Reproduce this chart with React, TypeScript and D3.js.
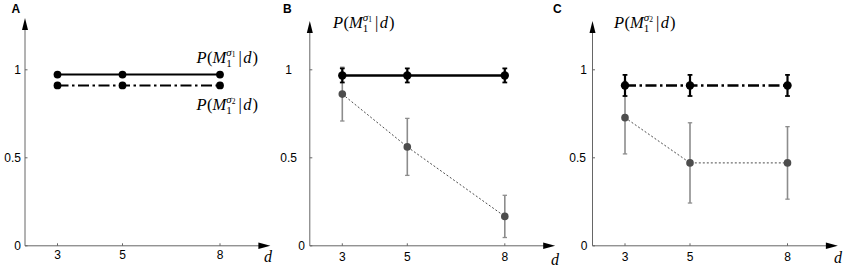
import React from "react";
import * as d3 from "d3";

// ---- data ----
const dValues = [3, 5, 8];
const dTickLabels = ["3", "5", "8"];
const yTicks = [0, 0.5, 1];
const yTickLabels = ["0", "0.5", "1"];

const aSigma1 = [0.973, 0.973, 0.973];
const aSigma2 = [0.911, 0.911, 0.911];

const bModel = [0.968, 0.968, 0.968];
const bModelErr = [0.04, 0.04, 0.04];
const bEmp = [0.862, 0.562, 0.167];
const bEmpErr = [0.153, 0.162, 0.12];

const cModel = [0.911, 0.911, 0.911];
const cModelErr = [0.06, 0.06, 0.06];
const cEmp = [0.728, 0.471, 0.471];
const cEmpErr = [0.206, 0.228, 0.206];

const panelLetters = ["A", "B", "C"];

// ---- layout ----
const W = 843;
const H = 267;
const panelOrigins = [25, 309.8, 592.5];
const axisTop = [18, 21, 21];
const yBottom = 245.8;
const yOne = 69.8;
const SERIF = "'Liberation Serif', 'DejaVu Serif', serif";
const SANS = "'Liberation Sans', Arial, Helvetica, sans-serif";

function MathLabel({ x, y, sup }: { x: number; y: number; sup: string }) {
  return (
    <text x={x} y={y} fontFamily={SERIF} fontSize={16.5} fill="#000">
      <tspan fontStyle="italic">P</tspan>
      <tspan dx={0.5}>(</tspan>
      <tspan fontStyle="italic">M</tspan>
      <tspan fontSize={11} dy={3.5}>1</tspan>
      <tspan fontSize={11} fontStyle="italic" dx={-5.5} dy={-11}>σ</tspan>
      <tspan fontSize={7.5} dy={1.5}>{sup}</tspan>
      <tspan dx={3} dy={6}>|</tspan>
      <tspan dx={1.5} fontStyle="italic">d</tspan>
      <tspan dx={1}>)</tspan>
    </text>
  );
}

function Axes({ i, yLabelRight }: { i: number; yLabelRight: number[] }) {
  const ox = panelOrigins[i];
  const x = d3.scaleLinear().domain([2, 9.55]).range([ox, ox + 7.55 * 32.5]);
  const y = d3.scaleLinear().domain([0, 1]).range([yBottom, yOne]);
  const xEnd = x(9.55);
  const top = axisTop[i];
  const axisColor = "#666";
  return (
    <g>
      <line x1={ox} x2={xEnd - 10} y1={yBottom} y2={yBottom} stroke={axisColor} strokeWidth={1} />
      <line x1={ox} x2={ox} y1={yBottom} y2={top + 10} stroke={axisColor} strokeWidth={1} />
      <path d={`M${xEnd},${yBottom} L${xEnd - 12},${yBottom - 3.2} L${xEnd - 12},${yBottom + 3.2} Z`} fill="#000" />
      <path d={`M${ox},${top} L${ox - 3},${top + 12} L${ox + 3},${top + 12} Z`} fill="#000" />
      {dValues.map((d, k) => (
        <g key={k}>
          <line x1={x(d)} x2={x(d)} y1={yBottom} y2={yBottom - 2.5} stroke={axisColor} />
          <text x={x(d)} y={i === 0 ? 259 : 260.5} textAnchor="middle" fontFamily={SANS} fontSize={12} fill="#000">
            {dTickLabels[k]}
          </text>
        </g>
      ))}
      {yTicks.map((t, k) => (
        <g key={k}>
          <line x1={ox} x2={ox + 2.5} y1={y(t)} y2={y(t)} stroke={axisColor} />
          <text x={yLabelRight[k]} y={y(t) + 4.3} textAnchor="end" fontFamily={SANS} fontSize={12} fill="#000">
            {yTickLabels[k]}
          </text>
        </g>
      ))}
    </g>
  );
}

function ErrorSeries({ i, vals, errs, color, barColor, lineDash, lineWidth, r, barWidth, capW }:
  { i: number; vals: number[]; errs: number[]; color: string; barColor: string; lineDash: string; lineWidth: number; r: number; barWidth: number; capW: number }) {
  const ox = panelOrigins[i];
  const x = d3.scaleLinear().domain([2, 9.55]).range([ox, ox + 7.55 * 32.5]);
  const y = d3.scaleLinear().domain([0, 1]).range([yBottom, yOne]);
  const line = d3.line<number>().x((_, k) => x(dValues[k])).y((v) => y(v));
  return (
    <g>
      {vals.map((v, k) => (
        <g key={"e" + k}>
          <line x1={x(dValues[k])} x2={x(dValues[k])} y1={y(v + errs[k])} y2={y(v - errs[k])} stroke={barColor} strokeWidth={barWidth} />
          <line x1={x(dValues[k]) - capW} x2={x(dValues[k]) + capW} y1={y(v + errs[k])} y2={y(v + errs[k])} stroke={barColor} strokeWidth={barWidth * 0.8} />
          <line x1={x(dValues[k]) - capW} x2={x(dValues[k]) + capW} y1={y(v - errs[k])} y2={y(v - errs[k])} stroke={barColor} strokeWidth={barWidth * 0.8} />
        </g>
      ))}
      <path d={line(vals) || ""} fill="none" stroke={color} strokeWidth={lineWidth} strokeDasharray={lineDash} />
      {vals.map((v, k) => (
        <circle key={"c" + k} cx={x(dValues[k])} cy={y(v)} r={r} fill={color} />
      ))}
    </g>
  );
}

function PlainSeries({ i, vals, dash }: { i: number; vals: number[]; dash: string }) {
  const ox = panelOrigins[i];
  const x = d3.scaleLinear().domain([2, 9.55]).range([ox, ox + 7.55 * 32.5]);
  const y = d3.scaleLinear().domain([0, 1]).range([yBottom, yOne]);
  const line = d3.line<number>().x((_, k) => x(dValues[k])).y((v) => y(v));
  return (
    <g>
      <path d={line(vals) || ""} fill="none" stroke="#000" strokeWidth={2} strokeDasharray={dash} />
      {vals.map((v, k) => (
        <circle key={k} cx={x(dValues[k])} cy={y(v)} r={3.9} fill="#000" />
      ))}
    </g>
  );
}

export default function App() {
  const dash = "11,3.5,2.5,3.5";
  return (
    <svg width={W} height={H} style={{ position: "absolute", left: 0, top: 0, background: "#fff" }}>
      <rect width={W} height={H} fill="#fff" />
      {/* panel letters */}
      <text x={11.5} y={13} fontFamily={SANS} fontWeight="bold" fontSize={12}>{panelLetters[0]}</text>
      <text x={283} y={13} fontFamily={SANS} fontWeight="bold" fontSize={12}>{panelLetters[1]}</text>
      <text x={553} y={13} fontFamily={SANS} fontWeight="bold" fontSize={12}>{panelLetters[2]}</text>

      {/* Panel A */}
      <Axes i={0} yLabelRight={[21, 21, 21]} />
      <PlainSeries i={0} vals={aSigma1} dash="" />
      <PlainSeries i={0} vals={aSigma2} dash={dash} />
      <MathLabel x={196.5} y={63} sup="1" />
      <MathLabel x={196.5} y={110} sup="2" />
      <text x={264} y={262} fontFamily={SERIF} fontStyle="italic" fontSize={16}>d</text>

      {/* Panel B */}
      <Axes i={1} yLabelRight={[305, 297, 292]} />
      <ErrorSeries i={1} vals={bEmp} errs={bEmpErr} color="#4d4d4d" barColor="#8c8c8c" lineDash="2,2" lineWidth={1} r={3.8} barWidth={1.6} capW={2.2} />
      <ErrorSeries i={1} vals={bModel} errs={bModelErr} color="#000" barColor="#000" lineDash="" lineWidth={2.4} r={4.2} barWidth={2.2} capW={2.4} />
      <MathLabel x={333} y={28} sup="1" />
      <text x={551} y={265} fontFamily={SERIF} fontStyle="italic" fontSize={16}>d</text>

      {/* Panel C */}
      <Axes i={2} yLabelRight={[587.5, 586, 587]} />
      <ErrorSeries i={2} vals={cEmp} errs={cEmpErr} color="#4d4d4d" barColor="#8c8c8c" lineDash="2,2" lineWidth={1} r={3.8} barWidth={1.6} capW={2.2} />
      <ErrorSeries i={2} vals={cModel} errs={cModelErr} color="#000" barColor="#000" lineDash={dash} lineWidth={2.4} r={4.2} barWidth={2.2} capW={2.4} />
      <MathLabel x={614} y={28} sup="2" />
      <text x={834} y={263} fontFamily={SERIF} fontStyle="italic" fontSize={16}>d</text>
    </svg>
  );
}
